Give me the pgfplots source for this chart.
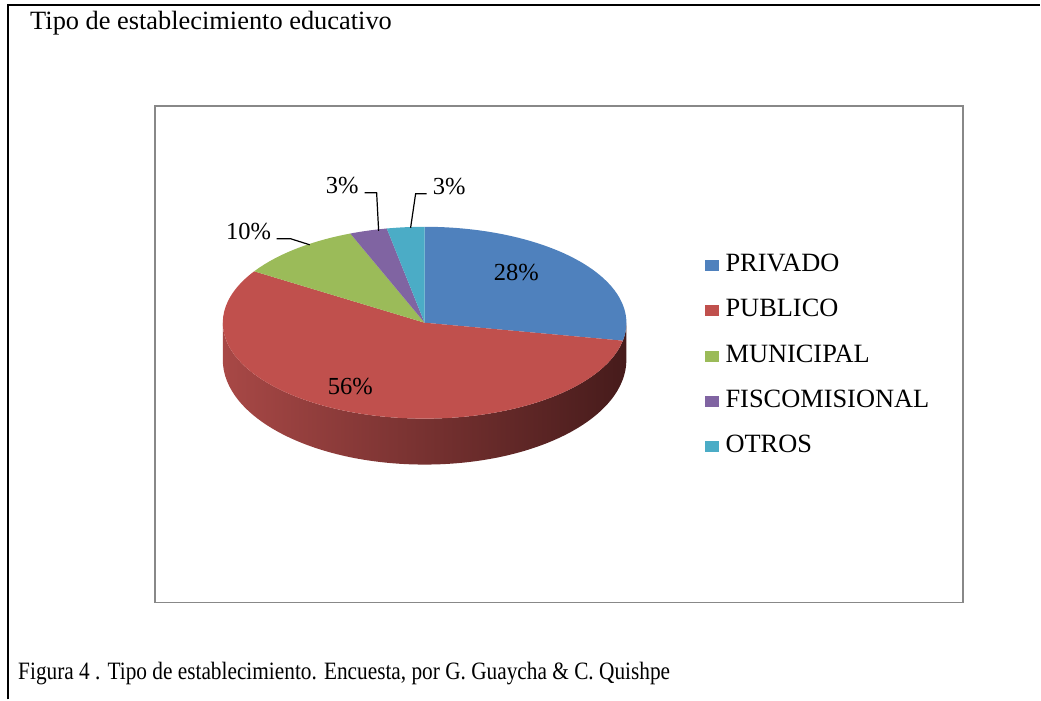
\documentclass[border=0pt]{standalone}
\usepackage{graphicx}
\usepackage{pgfplots}
\pgfplotsset{compat=1.18}
\usepackage{fontspec}
\setmainfont{Liberation Serif}
\definecolor{cPriv}{HTML}{4F81BD}
\definecolor{cPub}{HTML}{C0504D}
\definecolor{cMun}{HTML}{9BBB59}
\definecolor{cFis}{HTML}{8064A2}
\definecolor{cOtr}{HTML}{4BACC6}
\definecolor{cBox}{HTML}{888888}
\newcommand\bigfont{\fontsize{19.8}{24}\selectfont}
\newcommand\labfont{\fontsize{18.4}{22}\selectfont}
\newcommand\footfont{\fontsize{18.75}{22}\selectfont}
% pie values (percent): PRIVADO 28, PUBLICO 56, MUNICIPAL 10, FISCOMISIONAL 3, OTROS 3
\begin{document}
\begin{tikzpicture}
\begin{axis}[
  width=780.75pt, height=525pt, scale only axis,
  xmin=0, xmax=1041, ymin=0, ymax=700, y dir=reverse,
  hide axis, clip=false]
% full picture area (fixes the bounding box)
\path (axis cs:0,0) rectangle (axis cs:1041,700);
% outer frame
\draw[line width=1.5pt] (axis cs:8,700) -- (axis cs:8,5) -- (axis cs:1041,5);
% inner chart box
\draw[cBox, line width=1.1pt] (axis cs:155,106) rectangle (axis cs:964,603);
% pie
\begin{scope}[shift={(axis cs:425,323)}]
  % side (3D depth)
  \shade[left color={rgb,255:red,168;green,72;blue,70}, right color={rgb,255:red,70;green,27;blue,27}]
    (180:151.5pt and 72pt) -- ++(0,-27.75pt)
    arc[start angle=180, end angle=360, x radius=151.5pt, y radius=78.75pt]
    -- (0:151.5pt and 72pt)
    arc[start angle=360, end angle=180, x radius=151.5pt, y radius=72pt] -- cycle;
  % top face
  \fill[cPriv] (0,0) -- (90:151.5pt and 72pt)
    arc[start angle=90, end angle={90-3.6*28}, x radius=151.5pt, y radius=72pt] -- cycle;
  \fill[cPub] (0,0) -- ({90-3.6*28}:151.5pt and 72pt)
    arc[start angle={90-3.6*28}, end angle={90-3.6*(28+56)}, x radius=151.5pt, y radius=72pt] -- cycle;
  \fill[cMun] (0,0) -- ({90-3.6*(28+56)}:151.5pt and 72pt)
    arc[start angle={90-3.6*(28+56)}, end angle={90-3.6*(28+56+10)}, x radius=151.5pt, y radius=72pt] -- cycle;
  \fill[cFis] (0,0) -- ({90-3.6*(28+56+10)}:151.5pt and 72pt)
    arc[start angle={90-3.6*(28+56+10)}, end angle={90-3.6*(28+56+10+3)}, x radius=151.5pt, y radius=72pt] -- cycle;
  \fill[cOtr] (0,0) -- ({90-3.6*(28+56+10+3)}:151.5pt and 72pt)
    arc[start angle={90-3.6*(28+56+10+3)}, end angle={90-3.6*(28+56+10+3+3)}, x radius=151.5pt, y radius=72pt] -- cycle;
\end{scope}
% leader lines
\draw[line width=0.9pt] (axis cs:277,239) -- (axis cs:291,239) -- (axis cs:310,245);
\draw[line width=0.9pt] (axis cs:365,193) -- (axis cs:377,193) -- (axis cs:379,231);
\draw[line width=0.9pt] (axis cs:427,194) -- (axis cs:416,194) -- (axis cs:411,228);
% data labels
\node[anchor=base west, inner sep=0, font=\labfont] at (axis cs:494,281) {28\%};
\node[anchor=base west, inner sep=0, font=\labfont] at (axis cs:328,395) {56\%};
\node[anchor=base west, inner sep=0, font=\labfont] at (axis cs:226,240) {10\%};
\node[anchor=base west, inner sep=0, font=\labfont] at (axis cs:326,194) {3\%};
\node[anchor=base west, inner sep=0, font=\labfont] at (axis cs:433,195) {3\%};
% legend
\fill[cPriv] (axis cs:706,260) rectangle (axis cs:720,271);
\fill[cPub]  (axis cs:706,305) rectangle (axis cs:720,316);
\fill[cMun]  (axis cs:706,351) rectangle (axis cs:720,362);
\fill[cFis]  (axis cs:706,396) rectangle (axis cs:720,407);
\fill[cOtr]  (axis cs:706,441) rectangle (axis cs:720,452);
\node[anchor=base west, inner sep=0, font=\bigfont] at (axis cs:726,272) {PRIVADO};
\node[anchor=base west, inner sep=0, font=\bigfont] at (axis cs:726,317) {PUBLICO};
\node[anchor=base west, inner sep=0, font=\bigfont] at (axis cs:726,363) {MUNICIPAL};
\node[anchor=base west, inner sep=0, font=\bigfont] at (axis cs:726,408) {FISCOMISIONAL};
\node[anchor=base west, inner sep=0, font=\bigfont] at (axis cs:726,453) {OTROS};
% title and caption
\node[anchor=base west, inner sep=0, font=\bigfont] at (axis cs:30,30) {Tipo de establecimiento educativo};
\node[anchor=base west, inner sep=0] at (axis cs:18,680) {\scalebox{0.853}[1]{\footfont Figura 4 . Tipo de establecimiento. Encuesta, por G. Guaycha \& C. Quishpe}};
\end{axis}
\end{tikzpicture}
\end{document}
